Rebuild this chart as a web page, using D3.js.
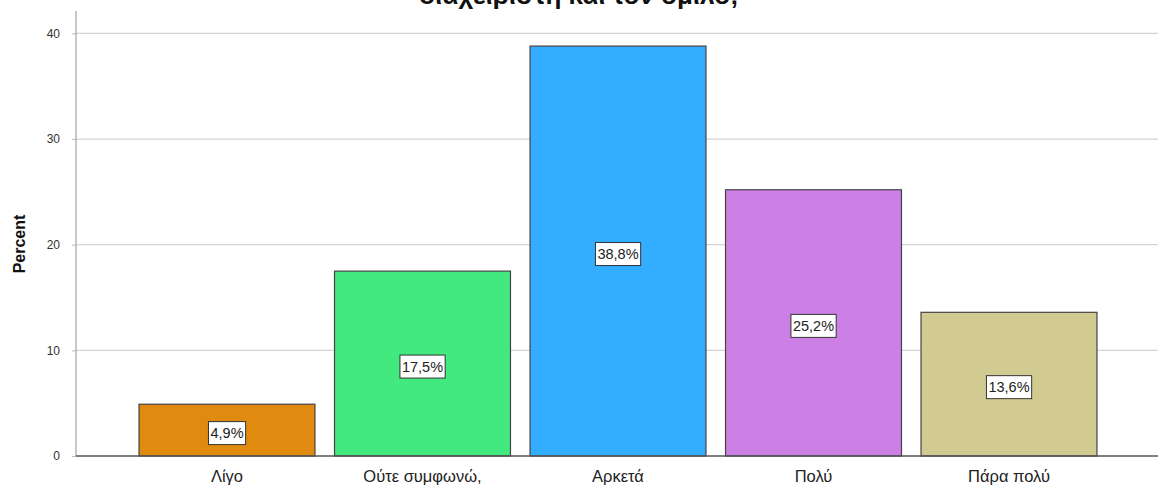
<!DOCTYPE html>
<html>
<head>
<meta charset="utf-8">
<script src="https://cdn.jsdelivr.net/npm/d3@7"></script>
<style>
  body { margin: 0; background: #fff; }
  svg { display: block; font-family: Arial, "Liberation Sans", sans-serif; }
</style>
</head>
<body>
<div id="chart"></div>
<script>
// chart values
var categories = ["Λίγο", "Ούτε συμφωνώ, ούτε διαφωνώ", "Αρκετά", "Πολύ", "Πάρα πολύ"];
var percents = [4.9, 17.5, 38.8, 25.2, 13.6];
var barColors = ["#e08a0f", "#42e97f", "#33adff", "#cc80e6", "#d2cb91"];
var yTicks = [0, 10, 20, 30, 40];
var titleText = "διαχειριστή και τον όμιλο;";

var width = 1158, height = 486;

var svg = d3.select("#chart").append("svg")
  .attr("width", width).attr("height", height);

var x = d3.scaleBand()
  .domain(categories)
  .range([129.25, 1106.75])
  .paddingInner(0.1)
  .paddingOuter(0.05);

var y = d3.scaleLinear()
  .domain([0, 40])
  .range([456, 33.4]);

var axisX = 76, axisTop = 11;

// gridlines
svg.append("g").selectAll("line.grid")
  .data(yTicks.filter(t => t > 0))
  .enter().append("line")
  .attr("class", "grid")
  .attr("x1", axisX).attr("x2", width)
  .attr("y1", d => y(d)).attr("y2", d => y(d))
  .attr("stroke", "#d4d4d4").attr("stroke-width", 1.3);

// y axis
var yAxis = d3.axisLeft(y).tickValues(yTicks).tickSize(4).tickPadding(12);
var gy = svg.append("g").attr("transform", `translate(${axisX},0)`).call(yAxis);
gy.select(".domain").remove();
gy.selectAll(".tick line").attr("stroke", "#bbb");
gy.selectAll(".tick text").attr("fill", "#333").attr("font-size", 12);
svg.append("line")
  .attr("x1", axisX).attr("x2", axisX)
  .attr("y1", axisTop).attr("y2", y(0))
  .attr("stroke", "#aaa").attr("stroke-width", 1.3);

// bars
svg.append("g").selectAll("rect.bar")
  .data(percents)
  .enter().append("rect")
  .attr("class", "bar")
  .attr("x", (d, i) => x(categories[i]))
  .attr("width", x.bandwidth())
  .attr("y", d => y(d))
  .attr("height", d => y(0) - y(d))
  .attr("fill", (d, i) => barColors[i])
  .attr("stroke", "#444").attr("stroke-width", 1.2);

// x axis line
svg.append("line")
  .attr("x1", axisX).attr("x2", width)
  .attr("y1", y(0)).attr("y2", y(0))
  .attr("stroke", "#555").attr("stroke-width", 1.3);

// value labels
var lab = svg.append("g").selectAll("g.lab")
  .data(percents)
  .enter().append("g")
  .attr("class", "lab")
  .attr("transform", (d, i) => `translate(${x(categories[i]) + x.bandwidth() / 2},${(y(d) + y(0)) / 2 + 3})`);
lab.append("text")
  .attr("text-anchor", "middle")
  .attr("dy", "0.36em")
  .attr("font-size", 14.5)
  .attr("fill", "#222")
  .text(d => d3.format(".1f")(d).replace(".", ",") + "%");
lab.each(function () {
  var g = d3.select(this);
  var bb = g.select("text").node().getBBox();
  g.insert("rect", "text")
    .attr("x", bb.x - 2).attr("y", -11.5)
    .attr("width", bb.width + 4).attr("height", 23)
    .attr("fill", "#fff").attr("stroke", "#333").attr("stroke-width", 1);
});

// category labels (second line falls off the canvas like the reference)
svg.append("g").selectAll("text.cat")
  .data(categories)
  .enter().append("text")
  .attr("class", "cat")
  .attr("x", d => x(d) + x.bandwidth() / 2)
  .attr("y", 482)
  .attr("text-anchor", "middle")
  .attr("font-size", 16.5)
  .attr("fill", "#222")
  .each(function (d) {
    var parts = d.indexOf(",") >= 0 ? [d.slice(0, d.indexOf(",") + 1), d.slice(d.indexOf(",") + 2)] : [d];
    var t = d3.select(this);
    parts.forEach((p, k) => t.append("tspan").attr("x", x(d) + x.bandwidth() / 2).attr("dy", k ? 20 : 0).text(p));
  });

// y axis title
svg.append("text")
  .attr("transform", "translate(25,244) rotate(-90)")
  .attr("text-anchor", "middle")
  .attr("font-size", 16)
  .attr("font-weight", "bold")
  .attr("fill", "#111")
  .text("Percent");

// title, cut off at the top
svg.append("text")
  .attr("x", 579).attr("y", 4)
  .attr("text-anchor", "middle")
  .attr("font-size", 26)
  .attr("font-weight", "bold")
  .attr("fill", "#111")
  .text(titleText);
</script>
</body>
</html>
